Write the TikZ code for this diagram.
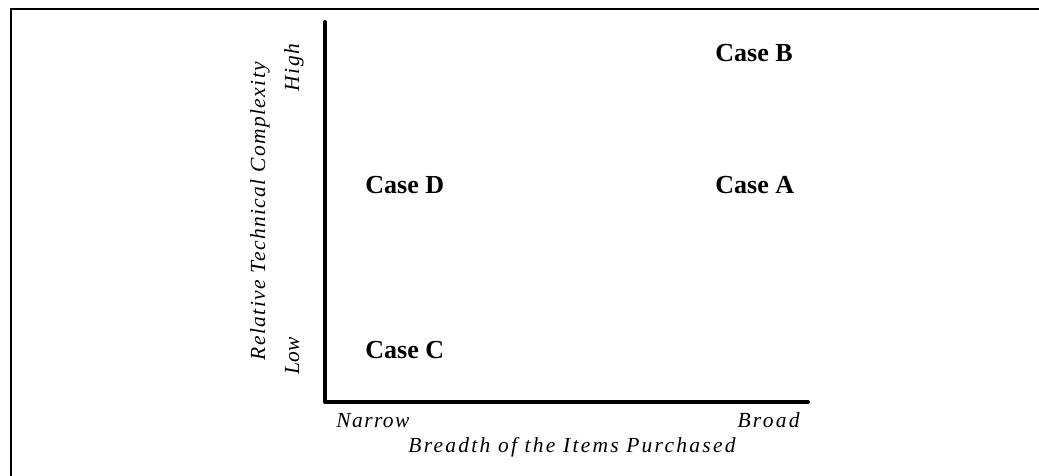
\documentclass[tikz,border=0pt]{standalone}
\usepackage{fontspec}
\setmainfont{Liberation Serif}
\newfontfamily\widesp[LetterSpace=10.5]{Liberation Serif}
\newfontfamily\midsp[LetterSpace=6.5]{Liberation Serif}

\begin{document}
\begin{tikzpicture}[x=0.5pt,y=-0.5pt,
  axisline/.style={line width=2pt, line cap=round, line join=round},
  frameline/.style={line width=1pt},
  casebox/.style={anchor=base west, inner sep=0pt,
    font=\fontsize{13}{15}\selectfont\bfseries},
  lab/.style={inner sep=0pt, font=\fontsize{10.75}{13}\selectfont\itshape},
  labw/.style={inner sep=0pt, font=\widesp\fontsize{10.75}{13}\selectfont\itshape},
  labm/.style={inner sep=0pt, font=\midsp\fontsize{10.75}{13}\selectfont\itshape}]

  \useasboundingbox (0,0) rectangle (1039,476);

  % outer frame (left and top edges)
  \coordinate (fbl) at (11,476);
  \coordinate (ftl) at (11,9);
  \coordinate (ftr) at (1039,9);
  \draw[frameline] (fbl) -- (ftl) -- (ftr);

  % axes
  \coordinate (origin) at (325,402);
  \coordinate (ytop) at (325,22);
  \coordinate (xend) at (808,402);
  \draw[axisline] (ytop) -- (origin) -- (xend);

  % cases
  \node[casebox] (caseB) at (715,62) {Case B};
  \node[casebox] (caseA) at (715,193) {Case A};
  \node[casebox] (caseD) at (365,193) {Case D};
  \node[casebox] (caseC) at (365,358) {Case C};

  % horizontal axis labels
  \node[labm, anchor=base west] (narrow) at (336,427) {Narrow};
  \node[labw, anchor=base east] (broad) at (800,427) {Broad};
  \node[labw, anchor=base] (xtitle) at (572,452) {Breadth of the Items Purchased};

  % vertical axis labels
  \node[labm, rotate=90, anchor=base] (high) at (299,67.5) {High};
  \node[lab, rotate=90, anchor=base] (low) at (299,356) {Low};
  \node[labm, rotate=90, anchor=base] (ytitle) at (265,211) {Relative Technical Complexity};
\end{tikzpicture}
\end{document}
